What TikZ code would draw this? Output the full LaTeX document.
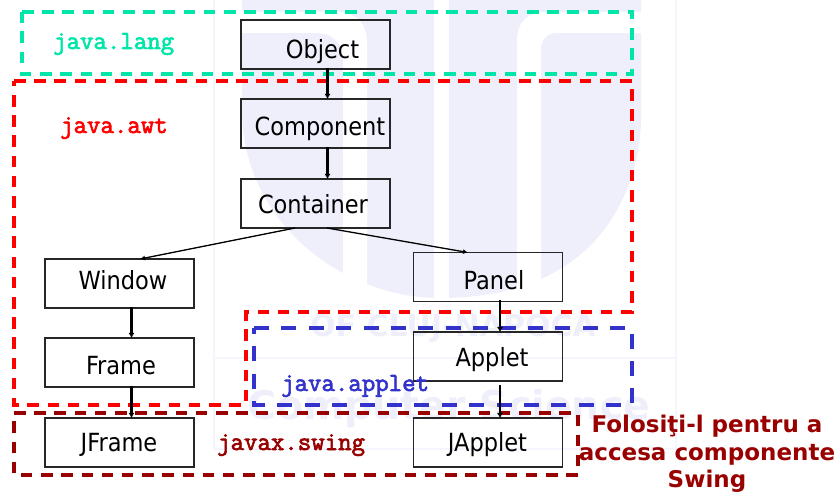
\documentclass[tikz,border=0pt]{standalone}
\usepackage{fontspec}
\setmainfont{DejaVu Sans Condensed}
\newfontfamily\lblbold{DejaVu Sans}
\newfontfamily\lblmono[FakeBold=2.5]{Latin Modern Mono}
\usetikzlibrary{arrows.meta}
\definecolor{wm}{HTML}{EFEFFC}
\definecolor{wmline}{HTML}{F5F5FD}
\definecolor{cgreen}{HTML}{00E6A8}
\definecolor{cred}{HTML}{FF0000}
\definecolor{cblue}{HTML}{3333CC}
\definecolor{cdark}{HTML}{990000}
\newcommand{\bl}[3]{\hspace*{#1pt}\smash{\raisebox{#2pt}{#3}}}
\tikzset{
  cls/.style={draw=black!85,line width=1.3pt,minimum width=149pt,minimum height=49pt,inner sep=0pt,outer sep=0pt,
    text height=0pt,text depth=0pt,font=\fontsize{25}{30}\selectfont,text=black},
  heavy/.style={draw=black,line width=2.2pt,-{Latex[length=5pt,width=6pt]},shorten <=-1pt},
  thin arr/.style={draw=black,line width=1.3pt,-{Latex[length=5pt,width=5pt]}},
  pkg/.style={line width=3.1pt,dash pattern=on 11.5pt off 8.7pt},
  pkgblue/.style={line width=3.4pt,dash pattern=on 15pt off 12.4pt},
  pkgname/.style={anchor=base west,inner sep=0pt,font=\lblmono\fontsize{26.1}{28}\selectfont},
}
\begin{document}
\begin{tikzpicture}[x=1pt,y=-1pt]
\useasboundingbox (0,0) rectangle (836,494);
% watermark
\fill[wm] (242,0) -- (641,0) -- (641,123) .. controls (638,190) and (600,298) .. (440,298)
  .. controls (340,298) and (242,220) .. (242,110) -- cycle;
\fill[white] (242,12) -- (338,12) .. controls (356,12) and (367,24) .. (367,42) -- (367,310) -- (343,310)
  -- (343,60) .. controls (343,42) and (332,33) .. (316,33) -- (242,33) -- cycle;
\fill[white] (434,0) rectangle (449,310);
\fill[white] (517,310) -- (517,40) .. controls (517,22) and (528,12) .. (546,12) -- (645,12) -- (645,33)
  -- (556,33) .. controls (547,33) and (541,40) .. (541,50) -- (541,310) -- cycle;
\draw[wmline,line width=2.5pt] (214,0) -- (214,449) -- (676,449) -- (676,0);
\draw[wmline,line width=2.5pt] (214,358) -- (676,358);
\node[anchor=base west,inner sep=0pt,text=wm,font=\lblbold\bfseries\fontsize{30}{32}\selectfont] (wma) at (310,337) {OF CLUJ-NAPOCA};
\node[anchor=base west,inner sep=0pt,text=wm,font=\lblbold\bfseries\fontsize{39.5}{46}\selectfont] (wmb) at (247,420) {Computer Science};
% packages
\draw[pkg,cgreen] (22,12) -- (632,12) -- (632,74) -- (22,74) -- cycle;
\draw[pkg,cred] (14,81) -- (632,81) -- (632,312) -- (246,312) -- (246,405) -- (14,405) -- cycle;
\draw[pkgblue,cblue] (254,328) -- (632,328) -- (632,405) -- (254,405) -- cycle;
\draw[pkg,cdark] (14,413) -- (578,413) -- (578,475) -- (14,475) -- cycle;
% classes
\node[cls] (obj) at (315.5,44.5) {\bl{14}{-14}{Object}};
\node[cls] (comp) at (315.5,123.5) {\bl{9}{-12}{Component}};
\node[cls] (cont) at (315.5,203.5) {\bl{-5}{-10}{Container}};
\node[cls] (win) at (119.5,283.5) {\bl{7}{-6.5}{Window}};
\node[cls] (frm) at (119.5,362.5) {\bl{3}{-12.5}{Frame}};
\node[cls] (jfrm) at (119.5,442.5) {\bl{-1}{-8.5}{JFrame}};
\node[cls] (pan) at (488,277) {\bl{12}{-12.5}{Panel}};
\node[cls] (app) at (488,356.5) {\bl{8}{-10.5}{Applet}};
\node[cls] (japp) at (488,442.5) {\bl{-1}{-9}{JApplet}};
% connectors
\draw[heavy] ([xshift=12pt]obj.south) -- ([xshift=12pt]comp.north);
\draw[heavy] ([xshift=12pt]comp.south) -- ([xshift=12pt]cont.north);
\draw[thin arr] ([xshift=-20.5pt]cont.south) -- ([xshift=20.5pt]win.north);
\draw[thin arr] ([xshift=11.5pt]cont.south) -- ([xshift=-20pt]pan.north);
\draw[heavy] ([xshift=12pt]win.south) -- ([xshift=12pt]frm.north);
\draw[heavy] ([xshift=12pt]frm.south) -- ([xshift=12pt]jfrm.north);
\draw[heavy,line width=1.7pt] ([xshift=12pt]pan.south) -- ([xshift=12pt]app.north);
\draw[heavy,line width=1.7pt] ([xshift=12pt,yshift=-5pt]app.south) -- ([xshift=12pt]japp.north);
% labels
\node[pkgname,text=cgreen] (llang) at (53,49) {java.lang};
\node[pkgname,text=cred] (lawt) at (60,133) {java.awt};
\node[pkgname,text=cblue] (lapp) at (281,391) {java.applet};
\node[pkgname,text=cdark] (lswing) at (217,450) {javax.swing};
\node[anchor=base,inner sep=0pt,align=center,text=cdark,font=\lblbold\bfseries\fontsize{23}{27.6}\selectfont] (note) at (707,487.7)
  {Folosiţi-l pentru a\\accesa componente\\Swing};
\end{tikzpicture}
\end{document}
